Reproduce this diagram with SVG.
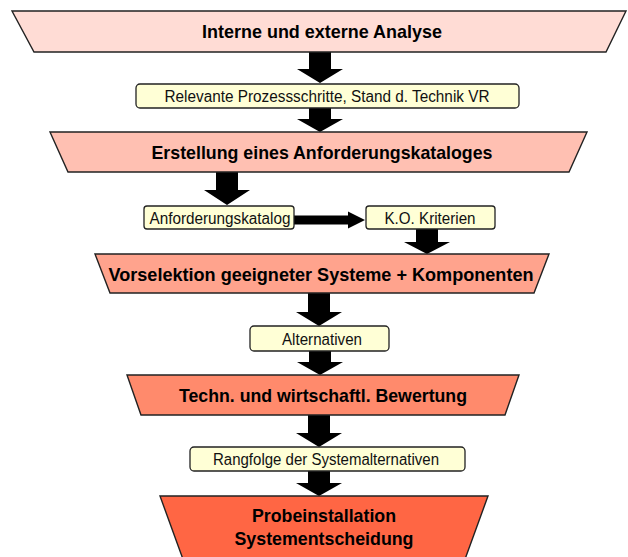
<svg xmlns="http://www.w3.org/2000/svg" width="628" height="557" viewBox="0 0 628 557">
<style>
.trap{stroke:#222;stroke-width:1.4;stroke-linejoin:miter}
.box{fill:#FFFFD6;stroke:#222;stroke-width:1.3}
.title{font-family:"Liberation Sans",Arial,sans-serif;font-weight:bold;font-size:19px;fill:#000;text-anchor:middle}
.lbl{font-family:"Liberation Sans",Arial,sans-serif;font-size:16px;fill:#111;text-anchor:middle}
.arr{fill:#000}
</style>
<rect width="628" height="557" fill="#fff"/>
<g id="connectors">
<polygon class="arr" points="309,52 331,52 331,69 343,69 320,83 297,69 309,69"/>
<polygon class="arr" points="309,108 331,108 331,119 343,119 320,132 297,119 309,119"/>
<polygon class="arr" points="216,172 238,172 238,190 250,190 227,205 204,190 216,190"/>
<polygon class="arr" points="294,215.5 348,215.5 348,211.5 365,220 348,228.5 348,224.5 294,224.5"/>
<polygon class="arr" points="416,229 438,229 438,242 450,242 427,254 404,242 416,242"/>
<polygon class="arr" points="308,293 330,293 330,312 342,312 319,326 296,312 308,312"/>
<polygon class="arr" points="309,351 331,351 331,362 343,362 320,375 297,362 309,362"/>
<polygon class="arr" points="308,415 330,415 330,433 342,433 319,447 296,433 308,433"/>
<polygon class="arr" points="308,471 330,471 330,483 342,483 319,496 296,483 308,483"/>
</g>
<g id="n1">
<polygon class="trap" fill="#FFDCD5" points="12,11 626,11 606,52 34,52"/>
<text class="title" x="322" y="38" textLength="240" lengthAdjust="spacingAndGlyphs">Interne und externe Analyse</text>
</g>
<g id="b1">
<rect class="box" x="136" y="84" width="383" height="24" rx="4"/>
<text class="lbl" x="327" y="101.5" textLength="325" lengthAdjust="spacingAndGlyphs">Relevante Prozessschritte, Stand d. Technik VR</text>
</g>
<g id="n2">
<polygon class="trap" fill="#FFC0B2" points="50,132 587,132 569,172 68,172"/>
<text class="title" x="322" y="158.5" textLength="341" lengthAdjust="spacingAndGlyphs">Erstellung eines Anforderungskataloges</text>
</g>
<g id="b2">
<rect class="box" x="144" y="206" width="150" height="23" rx="3"/>
<text class="lbl" x="220" y="223.5" textLength="141" lengthAdjust="spacingAndGlyphs">Anforderungskatalog</text>
</g>
<g id="b3">
<rect class="box" x="366" y="206" width="129" height="23" rx="3"/>
<text class="lbl" x="430" y="223.5" textLength="91" lengthAdjust="spacingAndGlyphs">K.O. Kriterien</text>
</g>
<g id="n3">
<polygon class="trap" fill="#FFA38D" points="95,254 549,254 534,293 110,293"/>
<text class="title" x="321" y="280.5" textLength="425" lengthAdjust="spacingAndGlyphs">Vorselektion geeigneter Systeme + Komponenten</text>
</g>
<g id="b4">
<rect class="box" x="250" y="326" width="139" height="25" rx="4"/>
<text class="lbl" x="322" y="344.5" textLength="80" lengthAdjust="spacingAndGlyphs">Alternativen</text>
</g>
<g id="n4">
<polygon class="trap" fill="#FF8A6C" points="127,375 519,375 505,415 141,415"/>
<text class="title" x="323" y="401.5" textLength="288" lengthAdjust="spacingAndGlyphs">Techn. und wirtschaftl. Bewertung</text>
</g>
<g id="b5">
<rect class="box" x="190" y="447" width="275" height="24" rx="4"/>
<text class="lbl" x="326" y="465" textLength="226" lengthAdjust="spacingAndGlyphs">Rangfolge der Systemalternativen</text>
</g>
<g id="n5">
<polygon class="trap" fill="#FF6644" points="160,496 488,496 464,562 184,562"/>
<text class="title" x="324" y="522" textLength="144" lengthAdjust="spacingAndGlyphs">Probeinstallation</text>
<text class="title" x="324" y="545" textLength="179" lengthAdjust="spacingAndGlyphs">Systementscheidung</text>
</g>
</svg>
